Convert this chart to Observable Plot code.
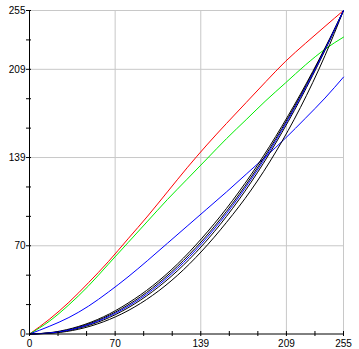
<!DOCTYPE html>
<html><head><meta charset="utf-8">
<script src="https://cdn.jsdelivr.net/npm/d3@7"></script>
<script src="https://cdn.jsdelivr.net/npm/@observablehq/plot@0.6"></script>
<style>body{margin:0;background:#fff}#chart svg{display:block}</style>
</head><body><div id="chart"></div>
<script>
// Tick positions (11 steps of 255) and labels
const tickValues = [0, 23.18, 46.36, 69.55, 92.73, 115.91, 139.09, 162.27, 185.45, 208.64, 231.82, 255];
const majorTicks = [0, 69.55, 139.09, 208.64, 255];
const tickLabels = ["0", "70", "139", "209", "255"];

// Red / green / blue channel curves
const curveX = [0, 16, 32, 48, 64, 80, 96, 112, 128, 144, 160, 176, 192, 208, 224, 240, 255];
const redY   = [0, 11.5, 25, 40.5, 57, 75, 93, 112, 131, 149, 166, 182.5, 199, 215, 229, 242.5, 255];
const greenY = [0, 10, 23, 38, 55, 72, 89, 106, 122, 138, 154, 169, 184, 198, 212, 224.5, 234];
const blueY  = [0, 6, 13, 22, 33, 45, 58, 71.5, 85, 98.5, 112, 126, 140, 154.5, 170, 186, 202.5];

// Bundle of gamma-like curves
const bundleX = [0, 20, 40, 60, 80, 100, 120, 140, 160, 180, 200, 220, 240, 255];
const black1Y = [0, 1.5, 6, 13.5, 24.3, 38, 55, 75.5, 99, 125.7, 155.8, 189, 225.5, 255];
const black2Y = [0, 1.3, 5.4, 12.6, 22.9, 36.4, 53.2, 73.3, 96.7, 123.6, 153.9, 187.6, 224.8, 255];
const blue2Y  = [0, 1.2, 5.0, 11.9, 21.8, 35, 51.6, 71.5, 94.9, 121.9, 152.4, 186.5, 224.2, 255];
const black3Y = [0, 1.0, 4.6, 11.0, 20.6, 33.5, 49.7, 69.4, 92.7, 119.7, 150.5, 185.1, 223.6, 255];
const black4Y = [0, 0.8, 3.8, 9.6, 18.4, 30.5, 46.1, 65.4, 88.0, 113.5, 143.5, 178.5, 219.5, 255];

const pts = (xs, ys) => xs.map((x, i) => ({x, y: ys[i]}));
const labelData = majorTicks.map((v, i) => ({v, label: tickLabels[i]}));
const lineOpts = (color) => ({x: "x", y: "y", stroke: color, strokeWidth: 1, curve: "monotone-x"});

const chart = Plot.plot({
  width: 359, height: 349,
  marginLeft: 29, marginRight: 16, marginTop: 10, marginBottom: 15.5,
  x: {domain: [0, 255], axis: null},
  y: {domain: [0, 255], axis: null},
  style: {fontFamily: "Arial, 'Liberation Sans', sans-serif", fontSize: "10px", background: "white", overflow: "visible"},
  marks: [
    Plot.ruleX(majorTicks.slice(1), {stroke: "#c8c8c8"}),
    Plot.ruleY(majorTicks.slice(1), {stroke: "#c8c8c8"}),
    Plot.line(pts(curveX, redY), lineOpts("#ff0000")),
    Plot.line(pts(curveX, greenY), lineOpts("#00ee00")),
    Plot.line(pts(curveX, blueY), lineOpts("#0000ff")),
    Plot.line(pts(bundleX, black1Y), lineOpts("#000000")),
    Plot.line(pts(bundleX, black2Y), lineOpts("#000000")),
    Plot.line(pts(bundleX, black3Y), lineOpts("#000000")),
    Plot.line(pts(bundleX, black4Y), lineOpts("#000000")),
    Plot.line(pts(bundleX, blue2Y), lineOpts("#0000ff")),
    Plot.ruleX([0], {stroke: "black"}),
    Plot.ruleY([0], {stroke: "black"}),
    Plot.ruleY(tickValues, {y: d => d, x1: 0, x2: 0, insetLeft: -3, insetRight: -2, stroke: "black"}),
    Plot.ruleX(tickValues, {x: d => d, y1: 0, y2: 0, insetTop: 2.5, insetBottom: 2.5, stroke: "black"}),
    Plot.text(labelData, {x: 0, y: "v", text: "label", textAnchor: "end", dx: -4, fill: "black"}),
    Plot.text(labelData, {x: "v", y: 0, text: "label", textAnchor: "middle", dy: 10, fill: "black"})
  ]
});
document.getElementById("chart").appendChild(chart);
</script>
</body></html>
